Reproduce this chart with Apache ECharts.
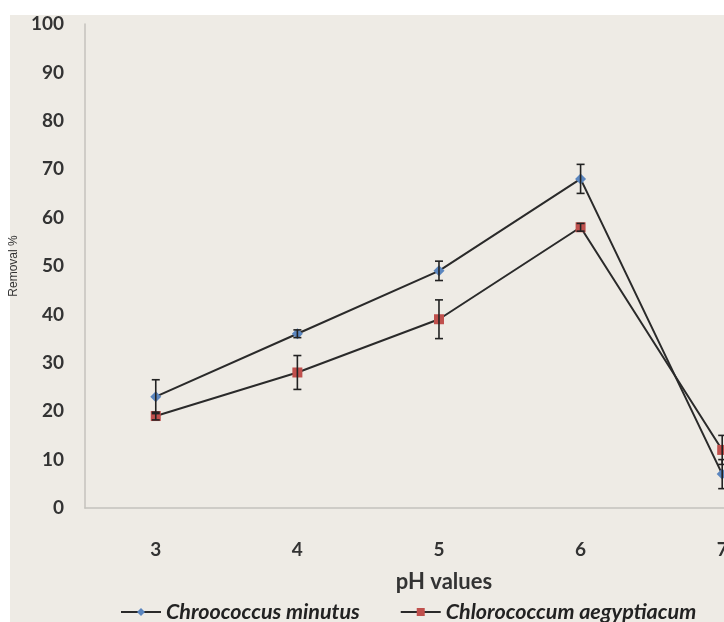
<!DOCTYPE html>
<html>
<head>
<meta charset="utf-8">
<script src="https://cdn.jsdelivr.net/npm/echarts@6/dist/echarts.min.js"></script>
<style>
html,body{margin:0;padding:0;background:#fff;overflow:hidden;width:724px;height:622px;}
#chart{width:800px;height:622px;}
</style>
</head>
<body>
<div id="chart"></div>
<script>
const categories = ['3', '4', '5', '6', '7'];
const seriesNames = ['Chroococcus minutus', 'Chlorococcum aegyptiacum'];
const chroococcus = [23, 36, 49, 68, 7];
const chroococcusErr = [3.5, 0.8, 2, 3, 3];
const chlorococcum = [19, 28, 39, 58, 12];
const chlorococcumErr = [0.8, 3.5, 4, 0.8, 3];
const yTicks = { min: 0, max: 100, interval: 10 };

const font = 'Lato, "Open Sans", "Liberation Sans", sans-serif';

function errData(vals, errs) {
  return vals.map((v, i) => [i, v - errs[i], v + errs[i]]);
}

function errRender(params, api) {
  const x = api.value(0);
  const lo = api.coord([x, api.value(1)]);
  const hi = api.coord([x, api.value(2)]);
  const cap = 4;
  const st = { stroke: '#222', lineWidth: 1.6 };
  return {
    type: 'group',
    children: [
      { type: 'line', shape: { x1: lo[0], y1: lo[1], x2: hi[0], y2: hi[1] }, style: st },
      { type: 'line', shape: { x1: hi[0] - cap, y1: hi[1], x2: hi[0] + cap, y2: hi[1] }, style: st },
      { type: 'line', shape: { x1: lo[0] - cap, y1: lo[1], x2: lo[0] + cap, y2: lo[1] }, style: st }
    ]
  };
}

const chart = echarts.init(document.getElementById('chart'));
chart.setOption({
  backgroundColor: '#ffffff',
  animation: false,
  graphic: {
    elements: [
      { type: 'rect', silent: true, z: -100, left: 10, top: 15,
        shape: { width: 790, height: 607 }, style: { fill: '#EEEBE5' } }
    ]
  },
  grid: { left: 83, right: 7, top: 24, bottom: 114, containLabel: false },
  legend: {
    top: 596,
    left: 115,
    itemWidth: 40,
    itemHeight: 10,
    itemGap: 40,
    data: seriesNames,
    textStyle: { fontFamily: font, fontStyle: 'italic', fontWeight: 'bold', fontSize: 21.5, color: '#222' }
  },
  xAxis: {
    type: 'category',
    data: categories,
    boundaryGap: true,
    axisLine: { show: true, lineStyle: { color: '#c4c2bd', width: 1.5 } },
    axisTick: { show: false },
    axisLabel: { margin: 32, fontFamily: font, fontWeight: 'bold', fontSize: 19, color: '#333' },
    splitLine: { show: false },
    name: 'pH values',
    nameLocation: 'middle',
    nameGap: 63,
    nameTextStyle: { fontFamily: font, fontWeight: 'bold', fontSize: 22, color: '#333', padding: [0, 0, 0, 10] }
  },
  yAxis: {
    type: 'value',
    min: yTicks.min,
    max: yTicks.max,
    interval: yTicks.interval,
    axisLine: { show: true, lineStyle: { color: '#c4c2bd', width: 1.5 } },
    axisTick: { show: false },
    axisLabel: { margin: 21, fontFamily: font, fontWeight: 'bold', fontSize: 19, color: '#333' },
    splitLine: { show: false },
    name: 'Removal %',
    nameLocation: 'middle',
    nameRotate: 90,
    nameGap: 56,
    nameTextStyle: { fontFamily: '"Liberation Sans", Arial, sans-serif', fontSize: 12, color: '#333' }
  },
  series: [
    {
      name: seriesNames[0],
      type: 'line',
      data: chroococcus,
      symbol: 'diamond',
      symbolSize: 11,
      itemStyle: { color: '#5B86BF' },
      lineStyle: { color: '#2a2a2a', width: 2 },
      z: 3
    },
    {
      name: seriesNames[1],
      type: 'line',
      data: chlorococcum,
      symbol: 'rect',
      symbolSize: 10,
      itemStyle: { color: '#C0504D' },
      lineStyle: { color: '#2a2a2a', width: 2 },
      z: 3
    },
    {
      type: 'custom',
      data: errData(chroococcus, chroococcusErr),
      renderItem: errRender,
      encode: { x: 0, y: [1, 2] },
      z: 5,
      silent: true
    },
    {
      type: 'custom',
      data: errData(chlorococcum, chlorococcumErr),
      renderItem: errRender,
      encode: { x: 0, y: [1, 2] },
      z: 5,
      silent: true
    }
  ]
});
</script>
</body>
</html>
